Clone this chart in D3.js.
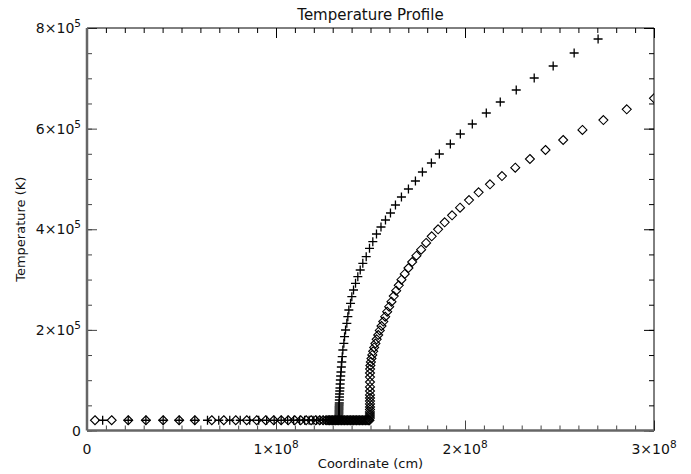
<!DOCTYPE html>
<html>
<head>
<meta charset="utf-8">
<script src="https://cdn.jsdelivr.net/npm/d3@7"></script>
<style>
  body { margin: 0; background: #fff; }
  text { font-family: "DejaVu Sans", sans-serif; fill: #111; }
</style>
</head>
<body>
<div id="chart"></div>
<script>
// data (x in cm, T in K)
var plusX = [8.29e6, 21.81e6, 31.16e6, 40.30e6, 48.75e6, 57.04e6, 63.75e6, 69.72e6, 75.53e6, 81.07e6,
  86.09e6, 90.85e6, 95.07e6, 99.03e6, 102.73e6, 106.16e6, 109.33e6, 112.50e6, 115.14e6, 117.52e6,
  119.63e6, 121.48e6, 123.33e6, 124.91e6, 126.23e6, 127.55e6, 128.61e6, 129.67e6, 130.46e6, 131.25e6,
  131.94e6, 132.57e6, 133.10e6,
  133.26e6, 133.26e6, 133.26e6, 133.31e6, 133.31e6, 133.36e6, 133.36e6, 133.42e6, 133.47e6, 133.52e6,
  133.57e6, 133.63e6, 133.73e6, 133.84e6, 133.94e6, 134.05e6, 134.21e6, 134.37e6, 134.58e6, 134.79e6,
  135.05e6, 135.37e6, 135.90e6, 136.27e6, 136.80e6, 137.48e6, 138.01e6, 138.54e6, 139.44e6, 140.12e6,
  141.02e6, 142.08e6, 143.29e6, 144.56e6, 145.93e6, 147.73e6, 149.47e6, 151.22e6, 153.17e6, 155.55e6,
  157.92e6, 160.56e6, 163.20e6, 166.37e6, 170.07e6, 173.77e6, 177.47e6, 182.22e6, 186.44e6, 192.25e6,
  197.54e6, 203.87e6, 211.27e6, 218.66e6, 227.11e6, 236.62e6, 246.65e6, 257.75e6, 270.42e6];
var plusT = [20400, 20400, 20400, 20400, 20400, 20400, 20400, 20400, 20400, 20400,
  20400, 20400, 20400, 20400, 20400, 20400, 20400, 20400, 20400, 20400,
  20400, 20400, 20400, 20400, 20400, 20400, 20400, 20400, 20400, 20400,
  20400, 20400, 20400,
  23900, 26800, 30800, 34800, 38800, 42700, 46700, 50700, 54700, 60600,
  66600, 72500, 78500, 84500, 92400, 100400, 108300, 116300, 126200, 136100,
  146700, 160000, 173300, 186400, 199800, 213100, 226200, 239500, 252800, 265900,
  279300, 292600, 305700, 319000, 332300, 345500, 362100, 375300, 390600, 404500,
  418400, 432300, 448200, 464100, 480000, 495900, 513800, 531700, 549600, 569400,
  589300, 609200, 631100, 652900, 676800, 700600, 724500, 750300, 778100];

var diamondX = [4.23e6, 13.05e6, 21.81e6, 31.16e6, 40.30e6, 48.75e6, 57.04e6, 66.02e6, 72.36e6, 78.70e6,
  84.51e6, 89.79e6, 94.54e6, 98.77e6, 102.73e6, 106.43e6, 109.86e6, 113.03e6, 115.93e6, 118.57e6,
  120.95e6, 123.06e6, 124.91e6, 126.50e6, 127.55e6, 128.35e6, 129.14e6, 129.93e6, 130.72e6, 131.51e6,
  132.31e6, 133.10e6, 133.89e6, 134.68e6, 135.47e6, 136.27e6, 137.06e6, 137.85e6, 138.64e6, 139.44e6,
  140.23e6, 141.02e6, 141.81e6, 142.60e6, 143.40e6, 144.19e6, 144.98e6, 145.77e6, 146.56e6, 147.36e6,
  148.15e6, 148.94e6, 149.47e6,
  149.68e6, 149.68e6, 149.68e6, 149.68e6, 149.73e6, 149.73e6, 149.73e6, 149.73e6, 149.73e6, 149.73e6,
  149.73e6, 149.73e6, 149.73e6, 149.73e6, 149.73e6, 149.79e6, 149.94e6, 150.21e6, 150.52e6, 150.94e6,
  151.42e6, 151.95e6, 152.59e6, 153.27e6, 154.07e6, 154.91e6, 155.81e6, 156.76e6, 157.77e6, 158.82e6,
  159.88e6, 161.09e6, 162.31e6, 163.57e6, 164.95e6, 166.37e6, 168.12e6, 170.07e6, 172.03e6, 174.30e6,
  176.78e6, 179.42e6, 182.38e6, 185.76e6, 189.24e6, 193.15e6, 197.38e6, 202.13e6, 207.20e6, 213.22e6,
  219.56e6, 226.59e6, 234.35e6, 242.59e6, 251.94e6, 262.13e6, 273.22e6, 285.58e6, 300.0e6];
var diamondT = [20400, 20400, 20400, 20400, 20400, 20400, 20400, 20400, 20400, 20400,
  20400, 20400, 20400, 20400, 20400, 20400, 20400, 20400, 20400, 20400,
  20400, 20400, 20400, 20400, 20400, 20400, 20400, 20400, 20400, 20400,
  20400, 20400, 20400, 20400, 20400, 20400, 20400, 20400, 20400, 20400,
  20400, 20400, 20400, 20400, 20400, 20400, 20400, 20400, 20400, 20400,
  20400, 20400, 20400,
  24800, 28800, 32800, 36800, 41700, 46700, 52700, 58600, 64600, 70600,
  78500, 86500, 96400, 106300, 114300, 122200, 129200, 136200, 143100, 150100,
  157400, 165000, 172900, 181300, 189800, 198800, 207700, 216600, 226200, 236100,
  246100, 256000, 267300, 277900, 288600, 299700, 311100, 323000, 334900, 347400,
  359400, 372700, 386000, 399900, 413800, 427700, 442800, 458100, 473400, 489400,
  505800, 522300, 539600, 557500, 577400, 597300, 617100, 638400, 660300];

// tick labels: [mantissa, exponent]
var xTicks = [0, 1e8, 2e8, 3e8];
var xTickLabels = [["0", ""], ["1\u00d710", "8"], ["2\u00d710", "8"], ["3\u00d710", "8"]];
var yTicks = [0, 2e5, 4e5, 6e5, 8e5];
var yTickLabels = [["0", ""], ["2\u00d710", "5"], ["4\u00d710", "5"], ["6\u00d710", "5"], ["8\u00d710", "5"]];

var svgWidth = 691, svgHeight = 474;
var margins = {top: 28, bottom: 43.5, left: 87, right: 37};
var width = svgWidth - margins.left - margins.right;
var height = svgHeight - margins.top - margins.bottom;

var svg = d3.select("#chart").append("svg")
    .attr("width", svgWidth)
    .attr("height", svgHeight);

var group = svg.append("g")
    .attr("transform", `translate(${margins.left}, ${margins.top})`);

var xScale = d3.scaleLinear().domain([0, 3e8]).range([0, width]);
var yScale = d3.scaleLinear().domain([0, 8e5]).range([height, 0]);

// clip markers to the plot box
svg.append("defs").append("clipPath").attr("id", "box")
  .append("rect").attr("width", width).attr("height", height);

// inward ticks on all four sides
function tickAxis(axis, values, size, transform, color) {
    var g = group.append("g")
        .attr("transform", transform)
        .call(axis.tickValues(values).tickSize(-size).tickSizeOuter(0).tickFormat(""));
    g.select(".domain").remove();
    g.selectAll("line").attr("stroke", color).attr("stroke-width", 1);
}
var xMinor = xScale.ticks(30), yMinor = yScale.ticks(16);
tickAxis(d3.axisBottom(xScale), xMinor, 5, `translate(0, ${height})`, "#444");
tickAxis(d3.axisBottom(xScale), xTicks, 10, `translate(0, ${height})`, "#444");
tickAxis(d3.axisTop(xScale), xMinor, 5, "translate(0, 0)", "#000");
tickAxis(d3.axisTop(xScale), xTicks, 10, "translate(0, 0)", "#000");
tickAxis(d3.axisLeft(yScale), yMinor, 5, "translate(0, 0)", "#444");
tickAxis(d3.axisLeft(yScale), yTicks, 10, "translate(0, 0)", "#444");
tickAxis(d3.axisRight(yScale), yMinor, 5, `translate(${width}, 0)`, "#000");
tickAxis(d3.axisRight(yScale), yTicks, 10, `translate(${width}, 0)`, "#000");

// frame: left/bottom drawn heavier grey, top/right thin black
group.append("line").attr("x1", 0).attr("x2", width).attr("y1", 0).attr("y2", 0)
    .attr("stroke", "#000").attr("stroke-width", 1);
group.append("line").attr("x1", width).attr("x2", width).attr("y1", 0).attr("y2", height)
    .attr("stroke", "#000").attr("stroke-width", 1);
group.append("line").attr("x1", 0).attr("x2", width).attr("y1", height).attr("y2", height)
    .attr("stroke", "#666").attr("stroke-width", 2.5);
group.append("line").attr("x1", 0).attr("x2", 0).attr("y1", 0).attr("y2", height)
    .attr("stroke", "#666").attr("stroke-width", 2.5);

// tick labels with superscript exponents
function addLabel(x, y, anchor, parts) {
    var t = group.append("text")
        .attr("x", x).attr("y", y)
        .attr("text-anchor", anchor)
        .style("font-size", "14px");
    t.append("tspan").text(parts[0]);
    if (parts[1]) {
        t.append("tspan").attr("dy", -6).style("font-size", "10.5px").text(parts[1]);
    }
}
xTicks.forEach(function(v, i) {
    addLabel(xScale(v), height + 23, "middle", xTickLabels[i]);
});
yTicks.forEach(function(v, i) {
    addLabel(-6, yScale(v) + 5, "end", yTickLabels[i]);
});

// markers
var plot = group.append("g").attr("clip-path", "url(#box)");
var plusData = plusX.map(function(x, i) { return {x: x, t: plusT[i]}; });
var diamondData = diamondX.map(function(x, i) { return {x: x, t: diamondT[i]}; });

plot.selectAll(".plus")
    .data(plusData)
    .enter()
    .append("path")
    .classed("plus", true)
    .attr("transform", d => `translate(${xScale(d.x)}, ${yScale(d.t)})`)
    .attr("d", "M-4.5,0H4.5M0,-4.5V4.5")
    .attr("stroke", "#000")
    .attr("stroke-width", 1.3)
    .attr("fill", "none");

plot.selectAll(".diamond")
    .data(diamondData)
    .enter()
    .append("path")
    .classed("diamond", true)
    .attr("transform", d => `translate(${xScale(d.x)}, ${yScale(d.t)})`)
    .attr("d", "M0,-4.5L4.5,0L0,4.5L-4.5,0Z")
    .attr("stroke", "#000")
    .attr("stroke-width", 1.1)
    .attr("fill", "none");

// title and axis titles
svg.append("text")
    .attr("x", margins.left + width / 2)
    .attr("y", 20)
    .attr("text-anchor", "middle")
    .style("font-size", "15px")
    .text("Temperature Profile");

svg.append("text")
    .attr("x", margins.left + width / 2)
    .attr("y", 468)
    .attr("text-anchor", "middle")
    .style("font-size", "13px")
    .text("Coordinate (cm)");

svg.append("text")
    .attr("transform", `rotate(-90)`)
    .attr("x", -(margins.top + height / 2))
    .attr("y", 25)
    .attr("text-anchor", "middle")
    .style("font-size", "13px")
    .text("Temperature (K)");
</script>
</body>
</html>
